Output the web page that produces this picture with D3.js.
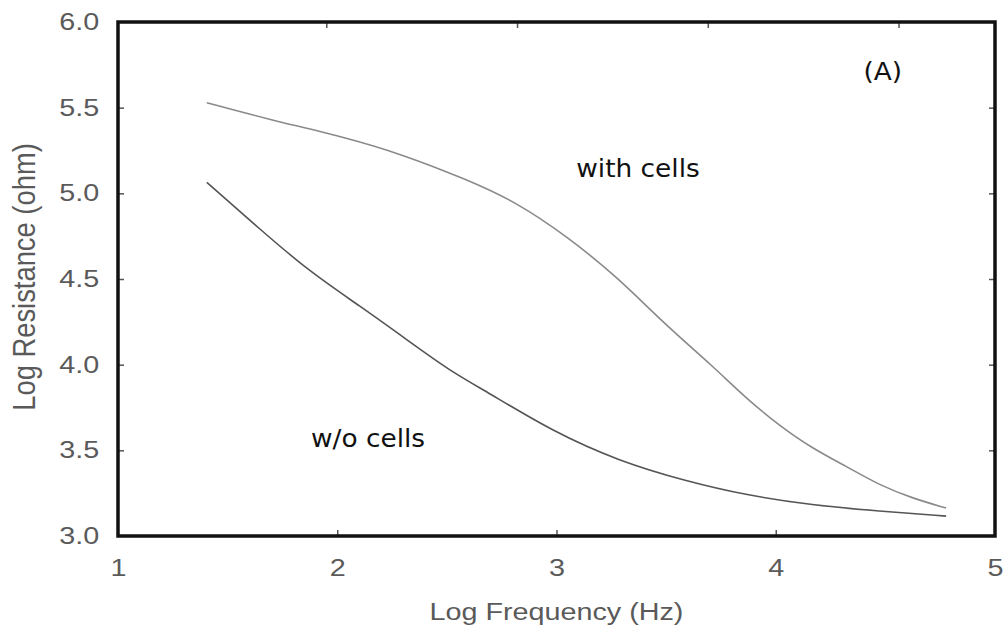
<!DOCTYPE html>
<html>
<head>
<meta charset="utf-8">
<script src="https://cdn.jsdelivr.net/npm/d3@7"></script>
<style>
  body { margin: 0; background: #fff; }
  .tick text { font-family: "Liberation Sans", Arial, sans-serif; font-size: 23px; fill: #5a5a5a; }
  .tick line { stroke: #555; stroke-width: 1.5; }
  .note { font-family: "DejaVu Sans", Verdana, sans-serif; font-size: 24px; fill: #111; }
  .title { font-family: "Liberation Sans", Arial, sans-serif; font-size: 23px; fill: #5a5a5a; }
</style>
</head>
<body>
<div id="chart"></div>
<script>
const WIDTH = 1008;
const HEIGHT = 633;
const MARGIN = {top: 22, right: 13, bottom: 97, left: 118};
const INNER_WIDTH = WIDTH - MARGIN.left - MARGIN.right;
const INNER_HEIGHT = HEIGHT - MARGIN.top - MARGIN.bottom;

// data (log10 values)
var withCellsX = [1.405, 1.692, 2.025, 2.298, 2.590, 2.818, 3.046, 3.273, 3.501, 3.711, 3.866, 4.016, 4.166, 4.321, 4.472, 4.622, 4.777];
var withCellsY = [5.529, 5.430, 5.331, 5.227, 5.081, 4.948, 4.750, 4.517, 4.227, 3.994, 3.802, 3.645, 3.512, 3.407, 3.297, 3.221, 3.163];
var withoutCellsX = [1.405, 1.647, 1.875, 2.103, 2.330, 2.513, 2.681, 2.982, 3.287, 3.592, 3.866, 4.166, 4.472, 4.777];
var withoutCellsY = [5.064, 4.791, 4.541, 4.343, 4.134, 3.965, 3.843, 3.610, 3.436, 3.320, 3.238, 3.180, 3.145, 3.116];

var xTicks = [1, 2, 3, 4, 5];
var yTicks = [3.0, 3.5, 4.0, 4.5, 5.0, 5.5, 6.0];
var topTicks = [1.95, 2.82, 3.69, 4.56];

var notes = [
  {text: "(A)", x: 4.40, y: 5.66},
  {text: "with cells", x: 3.09, y: 5.095},
  {text: "w/o cells", x: 1.88, y: 3.52}
];

var translate = function(x, y){
  return "translate(" + x + "," + y + ")";
};

var zip = function(xs, ys){
  return xs.map(function(x, i){ return [x, ys[i]]; });
};

var xScale = d3.scaleLinear().domain([1, 5]).range([0, INNER_WIDTH]);
var yScale = d3.scaleLinear().domain([3, 6]).range([INNER_HEIGHT, 0]);

var svg = d3.select("#chart").append("svg")
  .attr("width", WIDTH)
  .attr("height", HEIGHT);

var g = svg.append("g").attr("transform", translate(MARGIN.left, MARGIN.top));

// axes, ticks pointing inward
var bottomAxis = d3.axisBottom(xScale).tickValues(xTicks).tickFormat(d3.format("d"))
  .tickSizeInner(-6).tickSizeOuter(0).tickPadding(24);
var leftAxis = d3.axisLeft(yScale).tickValues(yTicks).tickFormat(d3.format(".1f"))
  .tickSizeInner(-6).tickSizeOuter(0).tickPadding(15);
var rightAxis = d3.axisRight(yScale).tickValues(yTicks.slice(1, -1)).tickFormat("")
  .tickSizeInner(-6).tickSizeOuter(0);
var topAxis = d3.axisTop(xScale).tickValues(topTicks).tickFormat("")
  .tickSizeInner(-6).tickSizeOuter(0);

var gx = g.append("g").attr("transform", translate(0, INNER_HEIGHT)).call(bottomAxis);
var gy = g.append("g").call(leftAxis);
g.append("g").attr("transform", translate(INNER_WIDTH, 0)).call(rightAxis);
g.append("g").call(topAxis);

g.selectAll(".domain").remove();
gx.selectAll(".tick").filter(function(d){ return d === 1 || d === 5; }).select("line").remove();
gy.selectAll(".tick").filter(function(d){ return d === 3 || d === 6; }).select("line").remove();
g.selectAll(".tick text").attr("transform", "scale(1.25,1)");

// frame
g.append("rect")
  .attr("x", 0).attr("y", 0)
  .attr("width", INNER_WIDTH).attr("height", INNER_HEIGHT)
  .attr("fill", "none")
  .attr("stroke", "#111")
  .attr("stroke-width", 3.5);

// curves
var line = d3.line()
  .x(function(d){ return xScale(d[0]); })
  .y(function(d){ return yScale(d[1]); })
  .curve(d3.curveBasis);

g.append("path")
  .attr("d", line(zip(withCellsX, withCellsY)))
  .attr("fill", "none")
  .attr("stroke", "#8a8a8a")
  .attr("stroke-width", 1.6);

g.append("path")
  .attr("d", line(zip(withoutCellsX, withoutCellsY)))
  .attr("fill", "none")
  .attr("stroke", "#555")
  .attr("stroke-width", 1.6);

// annotations
g.selectAll(".note").data(notes).enter().append("text")
  .classed("note", true)
  .attr("transform", function(d){ return translate(xScale(d.x), yScale(d.y)) + " scale(1.1,1)"; })
  .text(function(d){ return d.text; });

// axis titles
svg.append("text")
  .classed("title", true)
  .attr("text-anchor", "middle")
  .attr("transform", translate(MARGIN.left + INNER_WIDTH / 2, 620) + " scale(1.25,1)")
  .text("Log Frequency (Hz)");

svg.append("text")
  .classed("title", true)
  .style("font-size", "24px")
  .attr("text-anchor", "middle")
  .attr("transform", translate(35, 277) + " rotate(-90) scale(1.14,1.28)")
  .text("Log Resistance (ohm)");
</script>
</body>
</html>
